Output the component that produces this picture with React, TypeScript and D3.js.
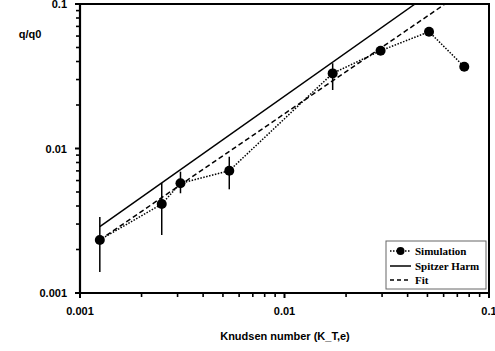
import React from "react";
import * as d3 from "d3";

const simX = [0.00125, 0.00251, 0.0031, 0.00537, 0.0172, 0.0295, 0.0509, 0.0757];
const simY = [0.00233, 0.00413, 0.00574, 0.00702, 0.0331, 0.0475, 0.0643, 0.0368];
const errLo = [0.0014, 0.00252, 0.0049, 0.00522, 0.0254, null, null, null];
const errHi = [0.00336, 0.00577, 0.00691, 0.00877, 0.0389, null, null, null];
const spitzerX = [0.00125, 0.0435];
const spitzerY = [0.002875, 0.1];
const fitX = [0.00125, 0.061];
const fitY = [0.00233, 0.1];
const tickLabels = ["0.001", "0.01", "0.1"];
const tickValues = [0.001, 0.01, 0.1];
const legendLabels = ["Simulation", "Spitzer Harm", "Fit"];

export default function App() {
  const L = 80, R = 489, T = 4, B = 293;
  const x = d3.scaleLog().domain([0.001, 0.1]).range([L, R]);
  const y = d3.scaleLog().domain([0.001, 0.1]).range([B, T]);
  const minor: number[] = [];
  for (const d of [0.001, 0.01]) for (let k = 2; k <= 9; k++) minor.push(d * k);
  const line = d3.line<[number, number]>().x((d) => x(d[0])).y((d) => y(d[1]));
  const simPts = simX.map((v, i) => [v, simY[i]] as [number, number]);
  const spPts = spitzerX.map((v, i) => [v, spitzerY[i]] as [number, number]);
  const fitPts = fitX.map((v, i) => [v, fitY[i]] as [number, number]);
  const sans = "'Liberation Sans', Arial, sans-serif";
  const serif = "'Liberation Serif', 'Times New Roman', serif";
  return (
    <svg width={495} height={351} style={{ position: "absolute", left: 0, top: 0, background: "#fff" }}>
      <defs>
        <clipPath id="plot">
          <rect x={L} y={T} width={R - L} height={B - T} />
        </clipPath>
      </defs>
      <rect x={0} y={0} width={495} height={351} fill="#fff" />
      {/* ticks */}
      {tickValues.map((v) => (
        <g key={"maj" + v}>
          <line x1={L - 5} x2={L} y1={y(v)} y2={y(v)} stroke="#000" strokeWidth={2} />
          <line x1={x(v)} x2={x(v)} y1={B} y2={B + 5} stroke="#000" strokeWidth={2} />
        </g>
      ))}
      {minor.map((v) => (
        <g key={"min" + v}>
          <line x1={L - 4} x2={L} y1={y(v)} y2={y(v)} stroke="#000" strokeWidth={1.6} />
          <line x1={x(v)} x2={x(v)} y1={B} y2={B + 4} stroke="#000" strokeWidth={1.6} />
        </g>
      ))}
      {/* frame */}
      <line x1={L} x2={L} y1={T - 1} y2={B + 1} stroke="#000" strokeWidth={2.2} />
      <line x1={L - 1} x2={R + 1} y1={B} y2={B} stroke="#000" strokeWidth={2.2} />
      <line x1={L} x2={R + 1} y1={T} y2={T} stroke="#000" strokeWidth={2} />
      <line x1={R} x2={R} y1={T} y2={B} stroke="#000" strokeWidth={2} />
      {/* tick labels */}
      {tickValues.map((v, i) => (
        <text key={"yl" + v} x={67} y={y(v) + 4} textAnchor="end" fontFamily={sans} fontWeight="bold" fontSize={11}>
          {tickLabels[i]}
        </text>
      ))}
      {tickValues.map((v, i) => (
        <text key={"xl" + v} x={x(v)} y={315} textAnchor="middle" fontFamily={sans} fontWeight="bold" fontSize={11}>
          {tickLabels[i]}
        </text>
      ))}
      <text x={30} y={38} textAnchor="middle" fontFamily={sans} fontWeight="bold" fontSize={11}>q/q0</text>
      <text x={285} y={340} textAnchor="middle" fontFamily={sans} fontWeight="bold" fontSize={11}>Knudsen number (K_T,e)</text>
      {/* data */}
      <g clipPath="url(#plot)">
        <path d={line(spPts) || ""} fill="none" stroke="#000" strokeWidth={1.5} />
        <path d={line(fitPts) || ""} fill="none" stroke="#000" strokeWidth={1.5} strokeDasharray="5,3" />
        <path d={line(simPts) || ""} fill="none" stroke="#000" strokeWidth={1.5} strokeDasharray="1.5,1.5" />
        {simX.map((v, i) =>
          errLo[i] != null ? (
            <line key={"e" + i} x1={x(v)} x2={x(v)} y1={y(errLo[i] as number)} y2={y(errHi[i] as number)} stroke="#000" strokeWidth={1.5} />
          ) : null
        )}
        {simPts.map((p, i) => (
          <circle key={"c" + i} cx={x(p[0])} cy={y(p[1])} r={5} fill="#000" />
        ))}
      </g>
      {/* legend */}
      <rect x={386} y={241} width={100} height={48} fill="#fff" stroke="#666" strokeWidth={1} />
      <line x1={390} x2={411} y1={251} y2={251} stroke="#000" strokeWidth={1.5} strokeDasharray="1.5,1.5" />
      <circle cx={400.5} cy={251} r={4} fill="#000" />
      <line x1={390} x2={411} y1={266} y2={266} stroke="#000" strokeWidth={1.5} />
      <line x1={390} x2={411} y1={280} y2={280} stroke="#000" strokeWidth={1.5} strokeDasharray="4,3" />
      {legendLabels.map((t, i) => (
        <text key={t} x={415} y={[255, 270, 284][i]} fontFamily={serif} fontWeight="bold" fontSize={11}>
          {t}
        </text>
      ))}
    </svg>
  );
}
